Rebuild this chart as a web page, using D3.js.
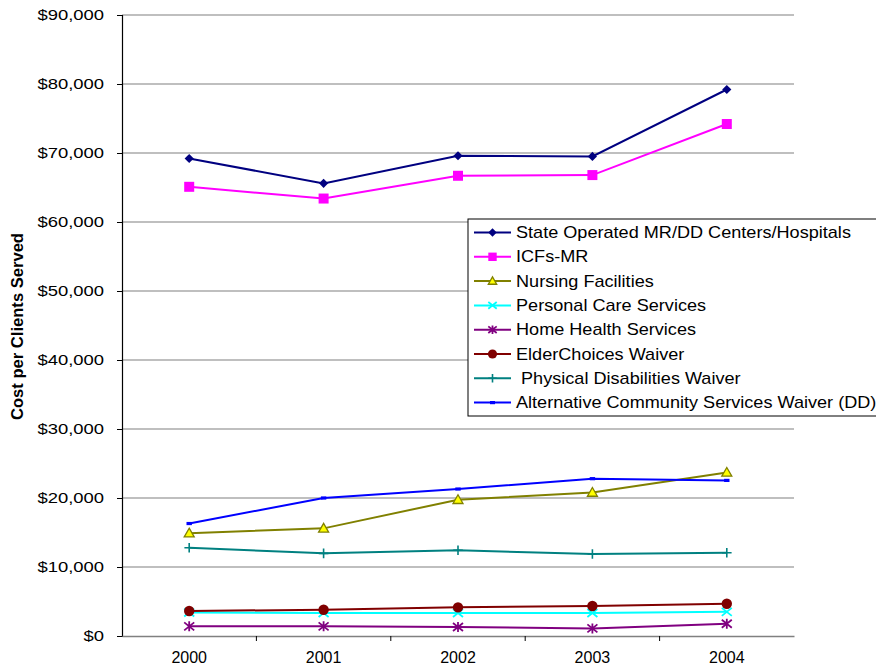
<!DOCTYPE html>
<html>
<head>
<meta charset="utf-8">
<script src="https://cdn.jsdelivr.net/npm/d3@7"></script>
<style>
  html, body { margin: 0; padding: 0; background: #fff; }
  svg { display: block; font-family: Arial, "Liberation Sans", sans-serif; }
</style>
</head>
<body>
<svg id="chart" width="876" height="668"></svg>
<script>
// Fiscal years on the x axis
const years = ["2000", "2001", "2002", "2003", "2004"];

// Cost per client served, by program
const stateOperated   = [69200, 65600, 69600, 69500, 79200];
const icfsMR          = [65100, 63400, 66700, 66800, 74200];
const nursing         = [14900, 15600, 19750, 20800, 23700];
const personalCare    = [3400, 3330, 3330, 3330, 3500];
const homeHealth      = [1400, 1400, 1300, 1100, 1780];
const elderChoices    = [3620, 3810, 4150, 4350, 4680];
const physDisability  = [12800, 11980, 12420, 11880, 12070];
const altCommunity    = [16300, 20000, 21300, 22800, 22550];

const yTicks = [0, 10000, 20000, 30000, 40000, 50000, 60000, 70000, 80000, 90000];

const series = [
  { name: "State Operated MR/DD Centers/Hospitals", values: stateOperated, color: "#000080", marker: "diamond" },
  { name: "ICFs-MR", values: icfsMR, color: "#FF00FF", marker: "square" },
  { name: "Nursing Facilities", values: nursing, color: "#808000", marker: "triangle" },
  { name: "Personal Care Services", values: personalCare, color: "#00FFFF", marker: "x" },
  { name: "Home Health Services", values: homeHealth, color: "#800080", marker: "star" },
  { name: "ElderChoices Waiver", values: elderChoices, color: "#800000", marker: "circle" },
  { name: " Physical Disabilities Waiver", values: physDisability, color: "#008080", marker: "plus" },
  { name: "Alternative Community Services Waiver (DD)", values: altCommunity, color: "#0000FF", marker: "dash" }
];

const FONT = "Arial, 'Liberation Sans', sans-serif";
const svg = d3.select("#chart");
const plot = { left: 122, right: 794, top: 15, bottom: 636 };

const x = d3.scaleBand().domain(years).range([plot.left, plot.right]);
const y = d3.scaleLinear().domain([0, 90000]).range([plot.bottom, plot.top]);
const cx = d => x(d) + x.bandwidth() / 2;

// Horizontal gridlines
svg.append("g")
  .selectAll("line")
  .data(yTicks.filter(t => t > 0))
  .join("line")
  .attr("x1", plot.left).attr("x2", plot.right)
  .attr("y1", d => y(d)).attr("y2", d => y(d))
  .attr("stroke", "#808080").attr("stroke-width", 1.2);

// Y axis (labels drawn slightly wide)
const yAxis = svg.append("g")
  .attr("transform", `translate(${plot.left},0)`)
  .call(d3.axisLeft(y).tickValues(yTicks).tickSize(5).tickPadding(13)
    .tickFormat(d => "$" + d3.format(",")(d)));
yAxis.select(".domain").attr("stroke", "#000").attr("stroke-width", 1.2);
yAxis.selectAll(".tick line").attr("stroke", "#000");
const yLabels = yAxis.selectAll(".tick text")
  .attr("font-size", 15.5).attr("fill", "#000").attr("font-family", FONT);
const refW = yLabels.filter(d => d === 90000).node().getComputedTextLength();
const yStretch = 66.7 / refW;
yLabels.attr("x", 0).attr("transform", `translate(-18,0) scale(${yStretch},1)`);

// X axis
const xAxis = svg.append("g")
  .attr("transform", `translate(0,${plot.bottom})`)
  .call(d3.axisBottom(x).tickSize(0).tickPadding(16));
xAxis.select(".domain").attr("stroke", "#808080").attr("stroke-width", 1.5);
xAxis.selectAll(".tick text").attr("font-size", 16).attr("fill", "#000").attr("font-family", FONT);
// Category separators below the axis
xAxis.append("g").selectAll("line")
  .data(years.slice(1))
  .join("line")
  .attr("x1", d => x(d)).attr("x2", d => x(d))
  .attr("y1", 0).attr("y2", 5)
  .attr("stroke", "#000");

// Y axis title (condensed bold)
svg.append("text")
  .attr("transform", "translate(23,326.5) rotate(-90)")
  .attr("text-anchor", "middle")
  .attr("font-family", "'Liberation Sans Narrow', " + FONT)
  .attr("font-size", 16).attr("font-weight", "bold")
  .attr("textLength", 187).attr("lengthAdjust", "spacingAndGlyphs")
  .text("Cost per Clients Served");

// Marker drawing
function drawMarker(g, type, color, s) {
  switch (type) {
    case "diamond":
      g.append("path").attr("d", `M0,${-s}L${s},0L0,${s}L${-s},0Z`).attr("fill", color);
      break;
    case "square":
      g.append("rect").attr("x", -s).attr("y", -s).attr("width", 2 * s).attr("height", 2 * s).attr("fill", color);
      break;
    case "triangle":
      g.append("path").attr("d", `M0,${-s}L${s},${s * 0.75}L${-s},${s * 0.75}Z`)
        .attr("fill", "#FFFF00").attr("stroke", color).attr("stroke-width", 1.3);
      break;
    case "x":
      g.append("path").attr("d", `M${-s},${-s * 0.8}L${s},${s * 0.8}M${-s},${s * 0.8}L${s},${-s * 0.8}`)
        .attr("stroke", color).attr("stroke-width", 1.8);
      break;
    case "star":
      g.append("path").attr("d", `M${-s},${-s * 0.8}L${s},${s * 0.8}M${-s},${s * 0.8}L${s},${-s * 0.8}M0,${-s}L0,${s}`)
        .attr("stroke", color).attr("stroke-width", 1.8);
      break;
    case "circle":
      g.append("circle").attr("r", s).attr("fill", color);
      break;
    case "plus":
      g.append("path").attr("d", `M${-s},0L${s},0M0,${-s}L0,${s}`)
        .attr("stroke", color).attr("stroke-width", 1.6);
      break;
    case "dash":
      g.append("rect").attr("x", -s * 0.6).attr("y", -1.6).attr("width", s * 1.2).attr("height", 3.2).attr("fill", color);
      break;
  }
}
const markerSize = { diamond: 4.6, square: 5, triangle: 5, x: 5, star: 5, circle: 5.2, plus: 4.8, dash: 4.5 };

const line = d3.line().x((d, i) => cx(years[i])).y(d => y(d));

const seriesG = svg.append("g");
series.forEach(s => {
  const g = seriesG.append("g");
  g.append("path")
    .attr("d", line(s.values))
    .attr("fill", "none")
    .attr("stroke", s.color)
    .attr("stroke-width", 2);
  s.values.forEach((v, i) => {
    const m = g.append("g").attr("transform", `translate(${cx(years[i])},${y(v)})`);
    drawMarker(m, s.marker, s.color, markerSize[s.marker]);
  });
});

// Legend
const legend = svg.append("g").attr("transform", "translate(468,219)");
legend.append("rect")
  .attr("x", 0).attr("y", 0).attr("width", 420).attr("height", 197)
  .attr("fill", "#fff").attr("stroke", "#000").attr("stroke-width", 1);
const legendTexts = [];
series.forEach((s, i) => {
  const ly = 13.5 + i * 24.3;
  const g = legend.append("g").attr("transform", `translate(0,${ly})`);
  g.append("line").attr("x1", 6).attr("x2", 43).attr("y1", 0).attr("y2", 0)
    .attr("stroke", s.color).attr("stroke-width", 2);
  const m = g.append("g").attr("transform", "translate(24.5,0)");
  drawMarker(m, s.marker, s.color, s.marker === "circle" ? 4.6 : 4.2);
  legendTexts.push(g.append("text").attr("dy", "0.36em")
    .attr("font-size", 15.8).attr("fill", "#000").attr("font-family", FONT)
    .style("white-space", "pre")
    .text(s.name));
});
const legendStretch = 335 / legendTexts[0].node().getComputedTextLength();
legendTexts.forEach(t => t.attr("transform", `translate(48,0) scale(${legendStretch},1)`));
</script>
</body>
</html>
